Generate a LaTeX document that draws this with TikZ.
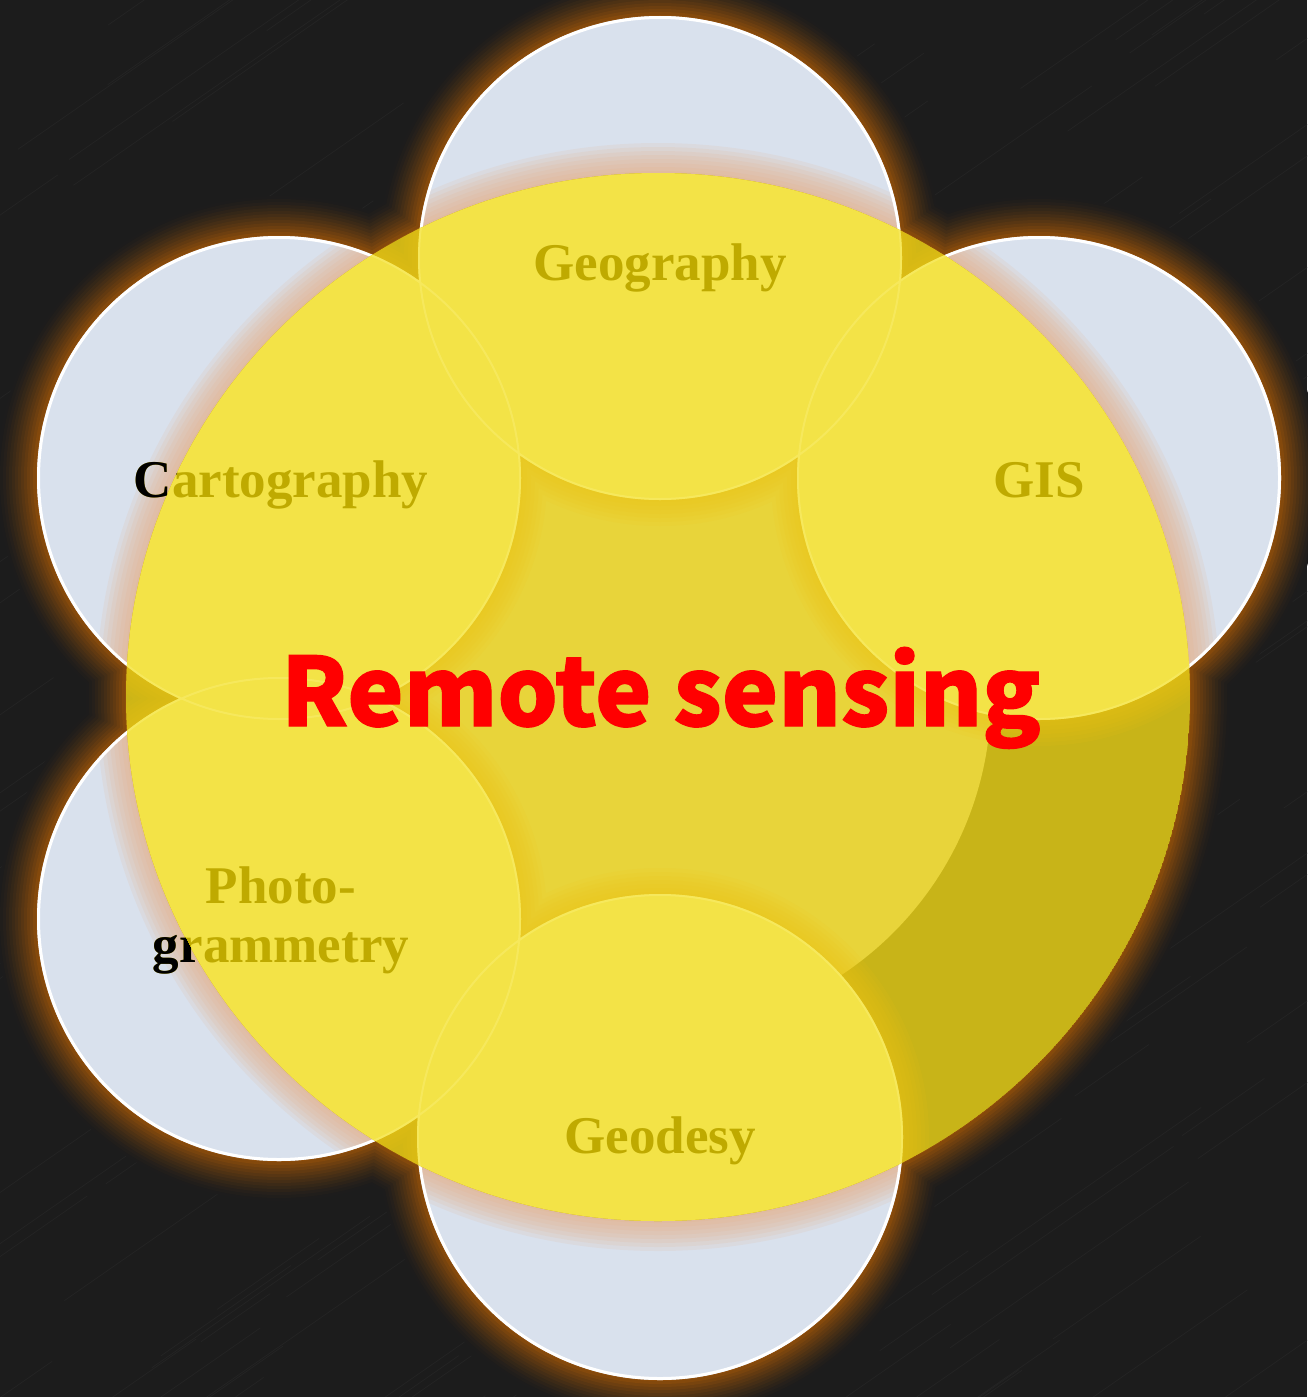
\documentclass[tikz,border=0pt]{standalone}
\usepackage{fontspec}
\setmainfont{Liberation Serif}
\newfontfamily\titlefont{Noto Sans CJK SC}[BoldFeatures={FakeBold=1.2}]

\definecolor{bgdark}{HTML}{1C1C1C}
\definecolor{streakcol}{HTML}{262626}
\definecolor{halo}{HTML}{94500A}
\definecolor{petal}{HTML}{D9E1ED}
\definecolor{peach}{HTML}{E8AA7C}
\definecolor{olivegold}{HTML}{C8B418}
\definecolor{core}{HTML}{E8D43A}
\definecolor{lobe}{HTML}{F3E347}
\definecolor{lobeglow}{HTML}{F2C414}
\definecolor{lobeedge}{HTML}{F7EA62}
\definecolor{labelcol}{HTML}{BFAA00}
\definecolor{titlered}{HTML}{FF0000}

% the five outer discs, grown by #1 (in pt)
\newcommand\petals[1]{%
  (660,258)  circle[radius={242pt+(#1pt)}]
  (279,478)  circle[radius={242pt+(#1pt)}]
  (1039,478) circle[radius={242pt+(#1pt)}]
  (279,919)  circle[radius={242pt+(#1pt)}]
  (660,1137) circle[radius={243pt+(#1pt)}]}
% the large central disc, grown by #1 (in pt)
\newcommand\hub[1]{(658,697) ellipse[x radius={532pt+(#1pt)}, y radius={524pt+(#1pt)}]}

\begin{document}
\begin{tikzpicture}[x=1pt,y=-1pt,
  lbl/.style={font=\fontsize{53}{59}\selectfont\bfseries, text=labelcol,
              inner sep=0pt, align=center},
  streak/.style={streakcol, line width=0.7pt, opacity=0.8}]
\useasboundingbox (0,0) rectangle (1307,1397);

% brushed dark background
\fill[bgdark] (0,0) rectangle (1307,1397);
\begin{scope}
  \clip (0,0) rectangle (1307,1397);
  \pgfmathsetseed{12}
  \foreach \i in {1,...,170} {
    \pgfmathsetmacro\sx{rnd*1500-200}
    \pgfmathsetmacro\sy{rnd*1600}
    \pgfmathsetmacro\len{60+rnd*320}
    \draw[streak] (\sx,\sy) -- ++({0.82*\len},{-0.57*\len});
  }
\end{scope}

% orange halo round the whole flower
\foreach \k in {40,37,...,1} {
  \pgfmathsetmacro\mixval{100*(1-\k/41)^1.4}
  \fill[halo!\mixval!bgdark] \petals{\k} \hub{\k};
}

% pale blue discs with white rims
\fill[petal] \petals{0};
\draw[white, line width=3pt] \petals{-1.5};

% warm shadow cast by the central disc on the blue discs
\begin{scope}
  \clip \petals{-3};
  \foreach \k in {30,26,...,2}
    \fill[peach, opacity=0.12] \hub{\k};
\end{scope}

% central disc with its inner core and the five yellow lobes
\begin{scope}
  \clip \hub{0};
  \fill[olivegold] \hub{0};
  \fill[core] (658,697) circle[radius=333pt];
  \foreach \k in {26,22,...,2}
    \fill[lobeglow, opacity=0.10] \petals{\k};
  \fill[lobe] \petals{0};
  \draw[lobeedge, line width=2pt, opacity=0.8] \petals{-1};
\end{scope}

% labels
\node[lbl] (geo) at (660,280) [anchor=base] {Geography};
\node[lbl] (car) at (281,497) [anchor=base] {Cartography};
\node[lbl] (gis) at (1039,497) [anchor=base] {GIS};
\node[lbl] (pho) at (281,920) {Photo-\\grammetry};
\node[lbl] (gds) at (660,1153) [anchor=base] {Geodesy};

% parts of the labels lying outside the central disc show dark
\begin{scope}[even odd rule]
  \clip (0,0) rectangle (1307,1397) \hub{0};
  \node[lbl, text=black] (car-out) at (car.base) [anchor=base] {Cartography};
  \node[lbl, text=black] (pho-out) at (pho.center) {Photo-\\grammetry};
\end{scope}

% title
\node[font=\titlefont\bfseries\fontsize{95}{110}\selectfont, text=titlered,
      inner sep=0pt, anchor=base] (rs) at (661,726) {Remote sensing};
\end{tikzpicture}
\end{document}
